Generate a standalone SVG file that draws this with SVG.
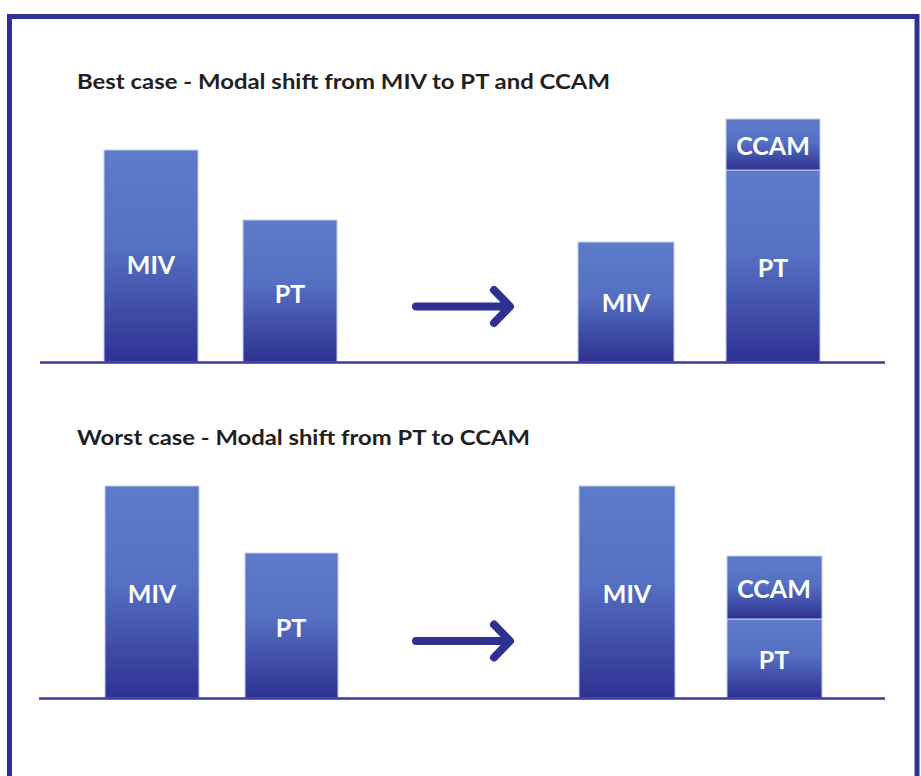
<svg xmlns="http://www.w3.org/2000/svg" width="921" height="776" viewBox="0 0 921 776">
<defs>
<linearGradient id="g" x1="0" y1="0" x2="0" y2="1">
<stop offset="0" stop-color="#5e7bca"/>
<stop offset="0.45" stop-color="#5570c2"/>
<stop offset="1" stop-color="#2e3192"/>
</linearGradient>
<style>
.bar{fill:url(#g);stroke:#c3cbee;stroke-width:1}
.lbl{font-family:Lato,"Noto Sans",sans-serif;font-weight:700;font-size:25px;fill:#ffffff;text-anchor:middle}
.ttl{font-family:Lato,"Noto Sans",sans-serif;font-weight:700;font-size:21px;fill:#231f20}
.base{stroke:#3a3a9a;stroke-width:2.5}
.arr{stroke:#2e3192;stroke-width:8;fill:none;stroke-linecap:round;stroke-linejoin:round}
</style>
</defs>
<rect width="921" height="776" fill="#ffffff"/>
<rect id="frame" x="9.5" y="16.5" width="907.5" height="800" fill="none" stroke="#2e3192" stroke-width="5"/>

<text class="ttl" x="77" y="89" textLength="533" lengthAdjust="spacingAndGlyphs">Best case - Modal shift from MIV to PT and CCAM</text>
<text class="ttl" x="77" y="445" textLength="453" lengthAdjust="spacingAndGlyphs">Worst case - Modal shift from PT to CCAM</text>

<g id="best-miv"><rect class="bar" x="104" y="150" width="94" height="212"/><text class="lbl" x="151" y="274">MIV</text></g>
<g id="best-pt"><rect class="bar" x="243" y="220" width="94" height="142"/><text class="lbl" x="290" y="303">PT</text></g>
<g id="best-miv-after"><rect class="bar" x="578" y="242" width="96" height="120"/><text class="lbl" x="626" y="312">MIV</text></g>
<g id="best-pt-after"><rect class="bar" x="726" y="170" width="94" height="192"/><text class="lbl" x="773" y="277">PT</text></g>
<g id="best-ccam-after"><rect class="bar" x="726" y="119" width="94" height="51"/><text class="lbl" x="773" y="155">CCAM</text></g>

<g id="worst-miv"><rect class="bar" x="105" y="486" width="94" height="212"/><text class="lbl" x="152" y="603">MIV</text></g>
<g id="worst-pt"><rect class="bar" x="245" y="553" width="93" height="145"/><text class="lbl" x="291" y="637">PT</text></g>
<g id="worst-miv-after"><rect class="bar" x="579" y="486" width="96" height="212"/><text class="lbl" x="627" y="603">MIV</text></g>
<g id="worst-pt-after"><rect class="bar" x="727" y="619" width="95" height="79"/><text class="lbl" x="774" y="669">PT</text></g>
<g id="worst-ccam-after"><rect class="bar" x="727" y="556" width="95" height="63"/><text class="lbl" x="774" y="598">CCAM</text></g>

<g id="connectors">
<line class="base" x1="40" y1="362.5" x2="885" y2="362.5"/>
<line class="base" x1="39" y1="698.5" x2="885" y2="698.5"/>
<path class="arr" d="M416 306.5 H509 M494 290 L510 306.5 L494 323"/>
<path class="arr" d="M416 641 H509 M494 624.5 L510 641 L494 657.5"/>
</g>
</svg>
